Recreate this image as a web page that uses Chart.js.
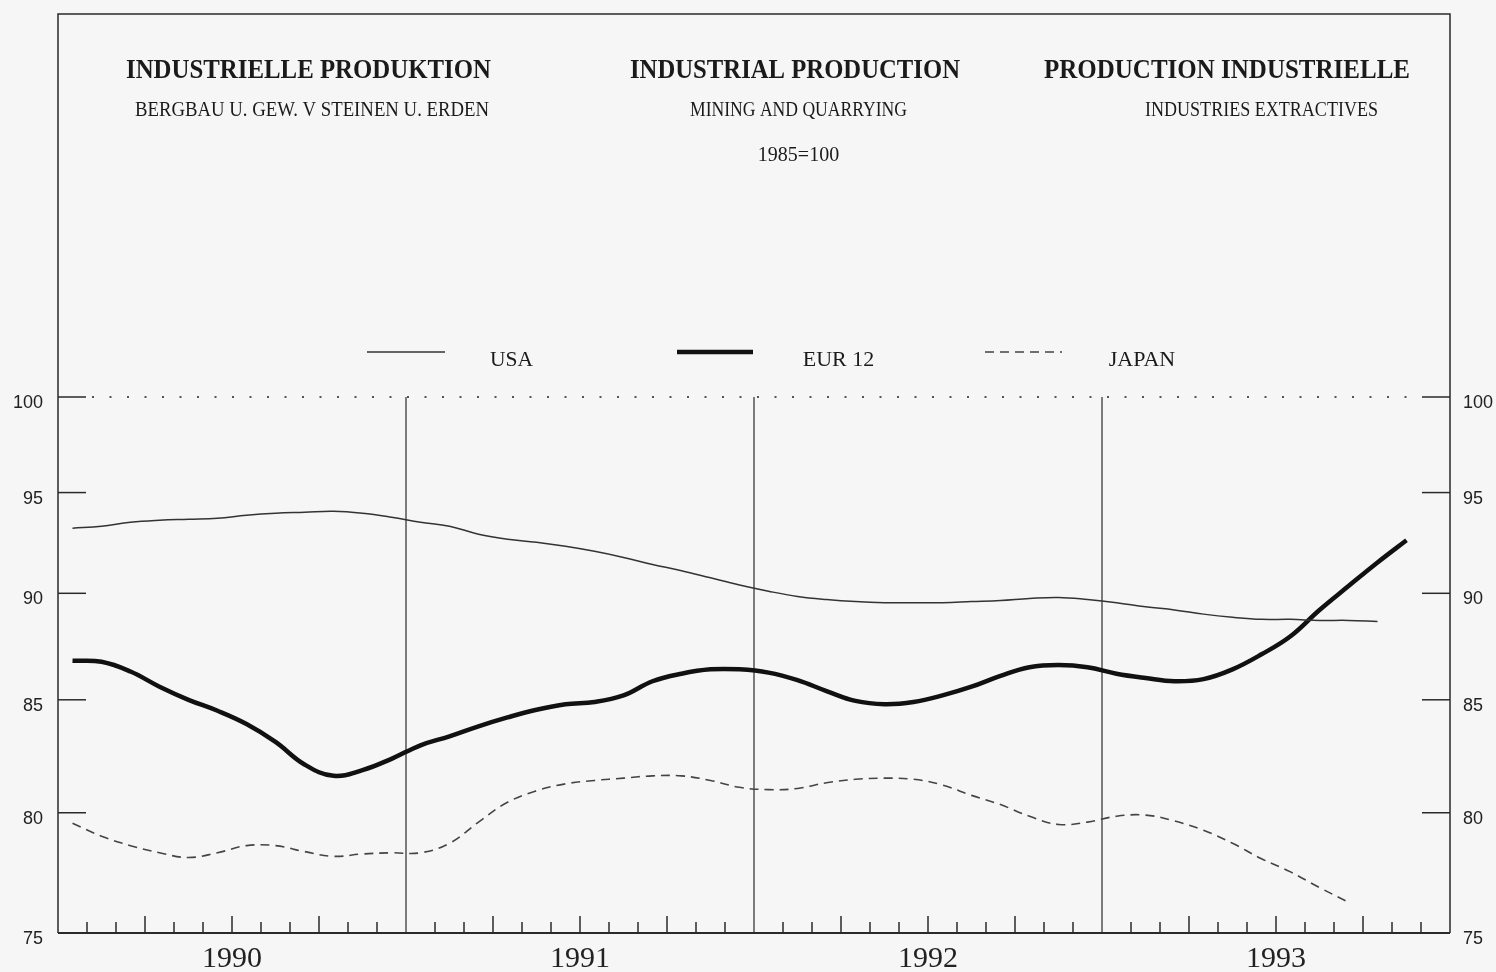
<!DOCTYPE html>
<html>
<head>
<meta charset="utf-8">
<script src="https://cdn.jsdelivr.net/npm/chart.js@4.4.1/dist/chart.umd.min.js"></script>
<style>
html,body{margin:0;padding:0;background:#f6f6f6;}
#wrap{width:1496px;height:972px;position:relative;}
canvas{display:block;}
</style>
</head>
<body>
<div id="wrap"><canvas id="c" width="1496" height="972"></canvas></div>
<script>
// ---- data (monthly, Jan 1990 .. ) ----
const years = ['1990', '1991', '1992', '1993'];
const yTicks = [75, 80, 85, 90, 95, 100];
const seriesNames = ['USA', 'EUR 12', 'JAPAN'];

const usa = [93.2, 93.3, 93.5, 93.6, 93.65, 93.7, 93.85, 93.95, 94.0, 94.05, 93.95, 93.75,
             93.5, 93.3, 92.9, 92.65, 92.5, 92.3, 92.05, 91.75, 91.4, 91.1, 90.75, 90.4,
             90.1, 89.85, 89.7, 89.6, 89.55, 89.55, 89.55, 89.6, 89.65, 89.75, 89.8, 89.7,
             89.55, 89.35, 89.2, 89.0, 88.85, 88.75, 88.75, 88.7, 88.7, 88.65];

const eur12 = [86.8, 86.75, 86.3, 85.6, 85.0, 84.5, 83.9, 83.1, 82.1, 81.6, 81.85, 82.35,
               82.95, 83.35, 83.8, 84.2, 84.55, 84.8, 84.9, 85.2, 85.85, 86.2, 86.4, 86.4,
               86.25, 85.9, 85.4, 84.95, 84.8, 84.9, 85.2, 85.6, 86.1, 86.5, 86.6, 86.5,
               86.2, 86.0, 85.85, 85.95, 86.4, 87.1, 87.95, 89.2, 90.35, 91.5, 92.6];

const japan = [79.55, 79.0, 78.6, 78.3, 78.1, 78.3, 78.6, 78.6, 78.35, 78.15, 78.25, 78.3,
               78.3, 78.7, 79.6, 80.45, 80.95, 81.25, 81.4, 81.5, 81.6, 81.6, 81.4, 81.1,
               81.0, 81.05, 81.3, 81.45, 81.5, 81.45, 81.2, 80.75, 80.35, 79.85, 79.5, 79.6,
               79.85, 79.9, 79.65, 79.25, 78.7, 78.05, 77.5, 76.85, 76.25];

// ---- helpers ----
const toPoints = arr => arr.map((v, i) => ({x: i + 0.5, y: v}));

const decor = {
  id: 'decor',
  beforeDraw(chart) {
    const ctx = chart.ctx;
    ctx.save();
    ctx.fillStyle = '#f6f6f6';
    ctx.fillRect(0, 0, chart.width, chart.height);
    ctx.restore();
  },
  beforeDatasetsDraw(chart) {
    const {ctx, chartArea: a, scales: {x, y}} = chart;
    const frameTop = 14;
    const line = (x1, y1, x2, y2) => { ctx.beginPath(); ctx.moveTo(x1, y1); ctx.lineTo(x2, y2); ctx.stroke(); };
    ctx.save();
    ctx.strokeStyle = '#2a2a2a';
    ctx.lineWidth = 1.5;
    ctx.beginPath();
    ctx.moveTo(a.left, a.bottom);
    ctx.lineTo(a.left, frameTop);
    ctx.lineTo(a.right, frameTop);
    ctx.lineTo(a.right, a.bottom);
    ctx.stroke();
    ctx.lineWidth = 2;
    line(a.left, a.bottom, a.right, a.bottom);

    const y100 = y.getPixelForValue(100);
    ctx.strokeStyle = '#555';
    ctx.lineWidth = 2;
    ctx.setLineDash([2, 15.5]);
    line(a.left + 34, y100, a.right - 28, y100);
    ctx.setLineDash([]);

    ctx.strokeStyle = '#2a2a2a';
    ctx.lineWidth = 1.5;
    yTicks.forEach(v => {
      if (v === 75) return;
      const py = y.getPixelForValue(v);
      line(a.left, py, a.left + 28, py);
      line(a.right - 28, py, a.right, py);
    });
    ctx.lineWidth = 1.2;
    for (let k = 12; k < 48; k += 12) {
      const px = x.getPixelForValue(k);
      line(px, y100, px, a.bottom);
    }
    ctx.lineWidth = 1.5;
    for (let k = 1; k < 48; k++) {
      if (k % 12 === 0) continue;
      const px = x.getPixelForValue(k);
      const h = (k % 3 === 0) ? 17 : 11;
      line(px, a.bottom, px, a.bottom - h);
    }
    ctx.restore();
  },
  afterDraw(chart) {
    const ctx = chart.ctx;
    ctx.save();
    ctx.fillStyle = '#1a1a1a';
    ctx.textAlign = 'center';
    ctx.textBaseline = 'alphabetic';
    const t = (txt, cx, by, font, w) => { ctx.font = font; ctx.fillText(txt, cx, by, w); };
    const big = 'bold 28px "Liberation Serif", "DejaVu Serif", serif';
    const mid = '20px "Liberation Serif", "DejaVu Serif", serif';
    t('INDUSTRIELLE PRODUKTION', 308.5, 78, big, 365);
    t('BERGBAU U. GEW. V STEINEN U. ERDEN', 312, 116, mid, 354);
    t('INDUSTRIAL PRODUCTION', 795, 78, big, 330);
    t('MINING AND QUARRYING', 798.5, 116, mid, 217);
    t('1985=100', 798.5, 161, mid, 93);
    t('PRODUCTION INDUSTRIELLE', 1227, 78, big, 366);
    t('INDUSTRIES EXTRACTIVES', 1261.5, 116, mid, 233);

    // legend
    const leg = [
      {x1: 367, x2: 445, tx: 511.5, tw: 43},
      {x1: 677, x2: 753, tx: 838.5, tw: 79},
      {x1: 985, x2: 1062, tx: 1142, tw: 68}
    ];
    chart.data.datasets.forEach((ds, i) => {
      const L = leg[i];
      ctx.strokeStyle = ds.borderColor;
      ctx.lineWidth = ds.borderWidth;
      ctx.setLineDash(ds.borderDash || []);
      ctx.beginPath(); ctx.moveTo(L.x1, 352); ctx.lineTo(L.x2, 352); ctx.stroke();
      ctx.setLineDash([]);
      ctx.font = '22px "Liberation Serif", "DejaVu Serif", serif';
      ctx.fillStyle = '#1a1a1a';
      ctx.fillText(ds.label, L.tx, 366, L.tw);
    });
    ctx.restore();
  }
};

const yAxisCommon = {
  type: 'logarithmic',
  min: 75,
  max: 100,
  bounds: 'data',
  grid: {display: false, drawTicks: false},
  border: {display: false},
  afterBuildTicks: s => { s.ticks = yTicks.map(v => ({value: v})); },
  ticks: {
    callback: v => String(v),
    font: {family: '"Liberation Sans", Arial, sans-serif', size: 18},
    color: '#222',
    labelOffset: 6
  }
};

new Chart(document.getElementById('c'), {
  type: 'line',
  data: {
    datasets: [
      {label: seriesNames[0], data: toPoints(usa), borderColor: '#333', borderWidth: 1.5, tension: 0.4, pointRadius: 0, yAxisID: 'y'},
      {label: seriesNames[1], data: toPoints(eur12), borderColor: '#111', borderWidth: 4.5, tension: 0.4, pointRadius: 0, yAxisID: 'y'},
      {label: seriesNames[2], data: toPoints(japan), borderColor: '#444', borderWidth: 1.6, borderDash: [9, 6], tension: 0.4, pointRadius: 0, yAxisID: 'y'}
    ]
  },
  options: {
    responsive: false,
    animation: false,
    devicePixelRatio: 1,
    layout: {padding: {top: 397, left: 0, right: 0, bottom: 0}},
    plugins: {legend: {display: false}, tooltip: {enabled: false}, title: {display: false}},
    scales: {
      x: {
        type: 'linear',
        min: 0,
        max: 48,
        position: 'bottom',
        grid: {display: false, drawTicks: false},
        border: {display: false},
        afterBuildTicks: s => { s.ticks = years.map((yr, i) => ({value: i * 12 + 6})); },
        afterFit: s => { s.height = 39; },
        ticks: {
          autoSkip: false,
          maxRotation: 0,
          padding: 8,
          callback: v => years[Math.round((v - 6) / 12)],
          font: {family: '"Liberation Serif", "DejaVu Serif", serif', size: 30},
          color: '#222'
        }
      },
      y: Object.assign({}, yAxisCommon, {
        position: 'left',
        afterFit: s => { s.width = 58; },
        ticks: Object.assign({}, yAxisCommon.ticks, {padding: 15})
      }),
      y2: Object.assign({}, yAxisCommon, {
        position: 'right',
        afterFit: s => { s.width = 46; },
        ticks: Object.assign({}, yAxisCommon.ticks, {padding: 13})
      })
    }
  },
  plugins: [decor]
});
</script>
</body>
</html>
